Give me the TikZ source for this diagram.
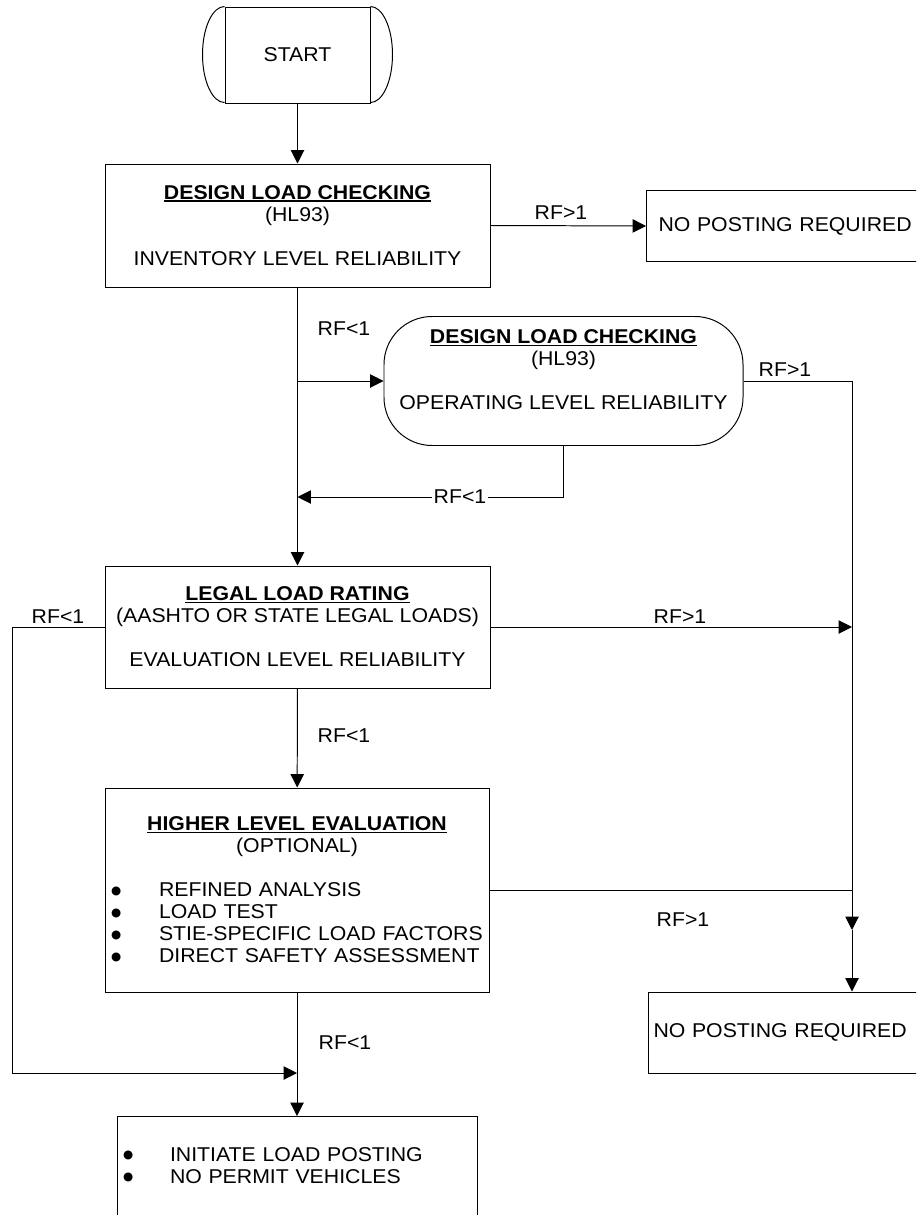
\documentclass[tikz,border=0pt]{standalone}
\usepackage{fontspec}
\setmainfont[FakeStretch=1.065]{Liberation Sans}
\newfontfamily\dotfont{DejaVu Sans}
\usetikzlibrary{arrows.meta}
\newdimen\px \px=0.025cm
\newsavebox\headbox
% bold heading with its rule under it
\newcommand{\head}[1]{\sbox\headbox{\bfseries #1}\leavevmode\rlap{\rule[-2.5\px]{\wd\headbox}{1.5\px}}\usebox\headbox}
\newcommand{\bul}[1]{\makebox[#1][l]{\hspace{2\px}\raisebox{2.5\px}{\dotfont\fontsize{8.3}{8.3}\selectfont ●}}}

\begin{document}
\begin{tikzpicture}[x=0.025cm,y=-0.025cm,line width=0.7pt,
    >={Triangle[length=9.5pt,width=9.5pt]},
    every node/.style={font=\fontsize{14.2}{15.65}\selectfont},
    box/.style={draw,rectangle,align=center,inner sep=0pt},
    sidebox/.style={draw,rectangle,align=left,anchor=west,inner ysep=0pt},
    lbl/.style={inner sep=1pt}]
    \useasboundingbox (0,0) rectangle (916,1215);
    \clip (0,0) rectangle (916,1215);

    % boxes
    \node[box,minimum width=145*\px,minimum height=96*\px] (start) at (297.5,55) {START};
    \draw (start.north west) arc[start angle=90,end angle=270,x radius=0.55cm,y radius=1.2cm];
    \draw (start.north east) arc[start angle=90,end angle=-90,x radius=0.55cm,y radius=1.2cm];
    \node[box,minimum width=385*\px,minimum height=123*\px] (design1) at (297.5,225.5)
        {\head{DESIGN LOAD CHECKING}\\(HL93)\\[22\px]INVENTORY LEVEL RELIABILITY};
    \node[sidebox,minimum height=71*\px,text width=276*\px,inner xsep=12*\px] (npr1) at (646,226)
        {NO POSTING REQUIRED};
    \node[box,rounded corners=1.2cm,minimum width=359*\px,minimum height=129*\px] (design2) at (563.5,381)
        {\head{DESIGN LOAD CHECKING}\\(HL93)\\[22\px]OPERATING LEVEL RELIABILITY\\\mbox{}};
    \node[box,minimum width=385*\px,minimum height=122*\px] (legal) at (297.5,627)
        {\head{LEGAL LOAD RATING}\\(AASHTO OR STATE LEGAL LOADS)\\[22\px]EVALUATION LEVEL RELIABILITY};
    \node[box,align=left,text width=376*\px,inner xsep=4*\px,minimum height=204*\px] (higher) at (297,890)
        {\makebox[\hsize]{\head{HIGHER LEVEL EVALUATION}}\\
         \makebox[\hsize]{(OPTIONAL)}\\[22\px]
         \bul{50\px}REFINED ANALYSIS\\
         \bul{50\px}LOAD TEST\\
         \bul{50\px}STIE-SPECIFIC LOAD FACTORS\\
         \bul{50\px}DIRECT SAFETY ASSESSMENT};
    \node[sidebox,minimum height=81*\px,text width=280*\px,inner xsep=5*\px] (npr2) at (648,1032.5)
        {NO POSTING REQUIRED};
    \node[box,align=left,anchor=north,text width=352*\px,inner xsep=4*\px,inner ysep=31*\px] (post) at (297,1116)
        {\bul{49\px}INITIATE LOAD POSTING\\
         \bul{49\px}NO PERMIT VEHICLES\\[40\px]\mbox{}};

    % joints on the lines
    \coordinate (mt) at (297.5,381);
    \coordinate (mb) at (297.5,497);
    \coordinate (lc) at (12,627);
    \coordinate (mj) at (297,1073);
    \coordinate (rt) at (852,381);
    \coordinate (rm) at (852,930);

    % connectors
    \draw[->] (start) -- (design1);
    \draw[->] (design1.east) -- (npr1.west);
    \draw[->] (design1.south) -- (legal.north);
    \draw[->] (mt) -- (design2.west);
    \draw[->] (design2.south) |- (mb);
    \draw[->] (design2.east) -- (rt) -- (rm);
    \draw[->] (rm) -- (rm |- npr2.north);
    \draw[->] (legal.east) -- (legal.east -| rt);
    \draw[->] (legal.west) -- (lc) |- (mj);
    \draw[->] (legal) -- (higher);
    \draw (higher.east) -- (higher.east -| rt);
    \draw[->] (higher.south) -- (higher.south |- post.north);

    % labels
    \node[lbl] (l1) at (561,213) {RF>1};
    \node[lbl] (l2) at (344,329) {RF<1};
    \node[lbl] (l3) at (785,370) {RF>1};
    \node[lbl,fill=white] (l4) at (460,497) {RF<1};
    \node[lbl] (l5) at (58,617) {RF<1};
    \node[lbl] (l6) at (680,617) {RF>1};
    \node[lbl] (l7) at (344,736) {RF<1};
    \node[lbl] (l8) at (683,920) {RF>1};
    \node[lbl] (l9) at (345,1043) {RF<1};
\end{tikzpicture}
\end{document}
